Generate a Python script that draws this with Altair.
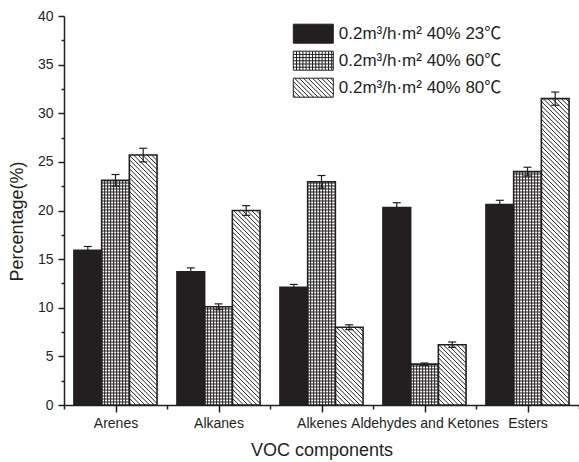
import altair as alt
import pandas as pd

# ---------------- data ----------------
categories = ["Arenes", "Alkanes", "Alkenes", "Aldehydes and Ketones", "Esters"]
series = ["0.2m³/h·m² 40% 23℃", "0.2m³/h·m² 40% 60℃", "0.2m³/h·m² 40% 80℃"]
values_23 = [15.9, 13.7, 12.1, 20.3, 20.6]
values_60 = [23.1, 10.1, 22.95, 4.2, 24.0]
values_80 = [25.7, 20.0, 8.0, 6.2, 31.5]
err_23 = [0.4, 0.4, 0.3, 0.5, 0.45]
err_60 = [0.6, 0.3, 0.65, 0.12, 0.45]
err_80 = [0.7, 0.5, 0.25, 0.28, 0.68]
y_ticks = [0, 5, 10, 15, 20, 25, 30, 35, 40]

# ---------------- layout / style ----------------
FONT = "Liberation Sans, Arial, Helvetica, sans-serif"
LEG_FONT = "Liberation Sans, Noto Sans CJK SC, sans-serif"
INK = "#231f20"
PW, PH = 515, 389          # plot area in px
YMAX = y_ticks[-1]
SX = PW / len(categories)  # px per x unit
SY = PH / YMAX             # px per y unit
BAR_PX = 27.7
BW = BAR_PX / SX
GRID_STEP = 3.0
HATCH_STEP = 4.5
CAP_PX = 4.0
fills = [INK, "#ffffff", "#ffffff"]

vals = [values_23, values_60, values_80]
errs = [err_23, err_60, err_80]

rows = []
for ci, cat in enumerate(categories):
    for si, ser in enumerate(series):
        left = ci + 0.5 + (si - 1.5) * BW
        rows.append(dict(category=cat, series=ser, si=si, value=vals[si][ci],
                         err=errs[si][ci], left=left, right=left + BW,
                         center=left + BW / 2, fillc=fills[si],
                         lo=vals[si][ci] - errs[si][ci], hi=vals[si][ci] + errs[si][ci],
                         capl=left + BW / 2 - CAP_PX / SX, capr=left + BW / 2 + CAP_PX / SX))
bars = pd.DataFrame(rows)

# pattern lines (grid for 60 ℃, diagonal hatch for 80 ℃), derived from the bars
pat = []
for r in rows:
    H = r["value"] * SY
    W = BAR_PX
    if r["si"] == 1:
        k = 1
        while k * GRID_STEP < W - 0.8:
            xx = r["left"] + k * GRID_STEP / SX
            pat.append(dict(x=xx, x2=xx, y=0, y2=r["value"]))
            k += 1
        k = 1
        while k * GRID_STEP < H - 0.8:
            yy = k * GRID_STEP / SY
            pat.append(dict(x=r["left"], x2=r["right"], y=yy, y2=yy))
            k += 1
    elif r["si"] == 2:
        c = HATCH_STEP / 2
        while c < W + H:
            xs = max(0.0, c - H)
            xe = min(W, c)
            if xe > xs:
                pat.append(dict(x=r["left"] + xs / SX, x2=r["left"] + xe / SX,
                                y=(c - xs) / SY, y2=(c - xe) / SY))
            c += HATCH_STEP
patterns = pd.DataFrame(pat)

# legend swatch shapes: 40 x 19 px, symbol size 19^2 -> 9.5 px per unit
SW_W, SW_H = 40.0, 19.0
unit = SW_H / 2
hw, hh = SW_W / 2 / unit, 1.0
rect = f"M{-hw:.3f},{-hh}H{hw:.3f}V{hh}H{-hw:.3f}Z"
grid_path = rect
u = 3.2 / unit
x = -hw + u
while x < hw - 0.05:
    grid_path += f"M{x:.3f},{-hh}V{hh}"
    x += u
y = -hh + u
while y < hh - 0.05:
    grid_path += f"M{-hw:.3f},{y:.3f}H{hw:.3f}"
    y += u
hatch_path = rect
step = HATCH_STEP / unit
a = -hw - 2 * hh + step / 2
while a < hw:
    xs = max(a, -hw)
    xe = min(a + 2 * hh, hw)
    if xe > xs:
        hatch_path += f"M{xs:.3f},{-hh + (xs - a):.3f}L{xe:.3f},{-hh + (xe - a):.3f}"
    a += step
shapes = [rect, grid_path, hatch_path]

# ---------------- scales and axes ----------------
xscale = alt.Scale(domain=[0, len(categories)], nice=False, zero=False)
yscale = alt.Scale(domain=[0, YMAX], nice=False)

cat_js = "[" + ",".join("'" + c + "'" for c in categories) + "]"
xaxis = alt.Axis(
    title="VOC components",
    values=[i * 0.5 for i in range(2 * len(categories) + 1)],
    labelExpr=f"datum.value % 1 == 0.5 ? {cat_js}[floor(datum.value)] : ''",
    tickSize={"condition": {"test": "datum.value % 1 != 0", "value": 7}, "value": 4},
    labelOverlap=False, labelFlush=False, labelBound=False,
    labelFontSize=14, labelPadding=4, titleFontSize=18, titleY=36,
    titleFontWeight="normal", grid=False,
)
yaxis = alt.Axis(
    title="Percentage(%)",
    values=[t / 2 for t in range(0, 2 * YMAX + 1, 5)],
    labelExpr="datum.value % 5 == 0 ? datum.label : ''",
    tickSize={"condition": {"test": "datum.value % 5 != 0", "value": 3}, "value": 6},
    labelFontSize=14, labelPadding=5, titleFontSize=18, titleFontWeight="normal",
    titleX=-38, titleY=205, grid=False,
)

leg = alt.Legend(
    title=None, orient="none", legendX=239.3, legendY=7.7,
    symbolSize=SW_H * SW_H, symbolStrokeWidth=1, symbolOpacity=1, symbolStrokeColor=INK,
    labelFontSize=17, labelFont=LEG_FONT, labelColor=INK, labelOffset=15.5,
    labelLimit=400, rowPadding=3.0, padding=0,
)

fill_layer = alt.Chart(bars).mark_bar(strokeWidth=0).encode(
    x=alt.X("left:Q", scale=xscale, axis=xaxis),
    x2="right:Q",
    y=alt.Y("value:Q", scale=yscale, axis=yaxis),
    y2=alt.datum(0),
    fill=alt.Fill("fillc:N", scale=None),
)

pattern_layer = alt.Chart(patterns).mark_rule(color=INK, strokeWidth=1).encode(
    x=alt.X("x:Q", scale=xscale, axis=xaxis),
    x2="x2:Q",
    y=alt.Y("y:Q", scale=yscale, axis=yaxis),
    y2="y2:Q",
)

outline_layer = alt.Chart(bars).mark_bar(fillOpacity=0, stroke=INK, strokeWidth=1.6).encode(
    x=alt.X("left:Q", scale=xscale, axis=xaxis),
    x2="right:Q",
    y=alt.Y("value:Q", scale=yscale, axis=yaxis),
    y2=alt.datum(0),
)

err_layer = alt.Chart(bars).mark_rule(color=INK, strokeWidth=1.2).encode(
    x=alt.X("center:Q", scale=xscale, axis=xaxis),
    y=alt.Y("lo:Q", scale=yscale, axis=yaxis),
    y2="hi:Q",
)
cap_hi = alt.Chart(bars).mark_rule(color=INK, strokeWidth=1.2).encode(
    x=alt.X("capl:Q", scale=xscale, axis=xaxis),
    x2="capr:Q",
    y=alt.Y("hi:Q", scale=yscale, axis=yaxis),
)
cap_lo = alt.Chart(bars).mark_rule(color=INK, strokeWidth=1.2).encode(
    x=alt.X("capl:Q", scale=xscale, axis=xaxis),
    x2="capr:Q",
    y=alt.Y("lo:Q", scale=yscale, axis=yaxis),
)

legend_layer = alt.Chart(bars).mark_point(filled=True, opacity=0, strokeWidth=1).encode(
    x=alt.X("center:Q", scale=xscale, axis=xaxis),
    y=alt.Y("value:Q", scale=yscale, axis=yaxis),
    fill=alt.Fill("series:N", scale=alt.Scale(domain=series, range=fills), legend=leg),
    stroke=alt.Stroke("series:N", scale=alt.Scale(domain=series, range=[INK, INK, INK]), legend=leg),
    shape=alt.Shape("series:N", scale=alt.Scale(domain=series, range=shapes), legend=leg),
)

chart = alt.layer(
    fill_layer, pattern_layer, outline_layer, err_layer, cap_hi, cap_lo, legend_layer
).properties(
    width=PW, height=PH,
    autosize=alt.AutoSizeParams(type="none"),
    padding={"left": 64, "top": 16, "right": 0, "bottom": 57},
    background="white",
).configure_view(
    strokeWidth=0
).configure_axis(
    domainColor=INK, domainWidth=1.5, tickColor=INK, tickWidth=1.5,
    labelColor=INK, titleColor=INK, labelFont=FONT, titleFont=FONT,
)

chart.save("out.html", embed_options={"renderer": "svg", "actions": False})
